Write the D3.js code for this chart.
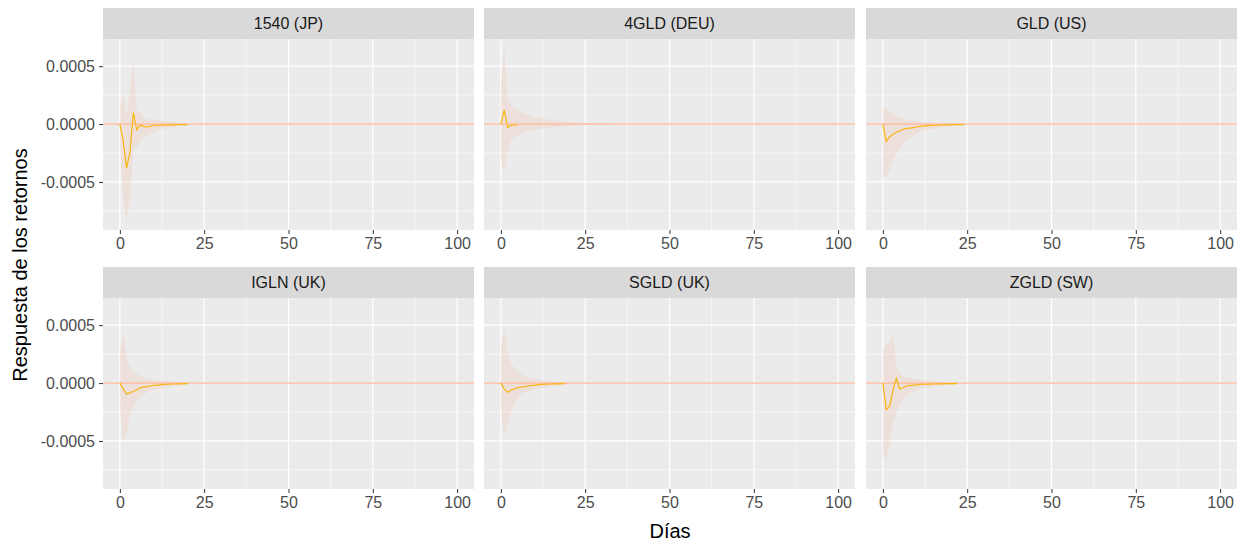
<!DOCTYPE html>
<html>
<head>
<meta charset="utf-8">
<script src="https://cdn.jsdelivr.net/npm/d3@7"></script>
<style>
  body { margin: 0; background: #fff; }
  text { font-family: "Liberation Sans", Arial, sans-serif; }
</style>
</head>
<body>
<script>
// panel titles
var panels = ["1540 (JP)", "4GLD (DEU)", "GLD (US)", "IGLN (UK)", "SGLD (UK)", "ZGLD (SW)"];

// impulse response (day 0, 1, 2, ...)
var irf1540 = [0, -0.00015, -0.00038, -0.00024, 0.0001, -0.00005, -0.00001, -0.00002, -0.000025, -0.00002, -0.000012,
  -0.00001, -0.00001, -0.000009, -0.000008, -0.000007, -0.000006, -0.000005, -0.000005, -0.000004, -0.000004];
var lo1540 = [-0.00017, -0.00066, -0.00084, -0.00066, -0.00022, -0.0002, -0.00015, -0.00012, -0.0001, -0.00008, -0.00007,
  -0.00006, -0.00005, -0.00004, -0.000035, -0.00003, -0.000025, -0.00002, -0.000015, -0.000012, -0.00001];
var hi1540 = [0.00015, 0.00026, 0.00006, 0.00029, 0.00054, 0.00011, 0.00011, 0.00006, 0.00004, 0.00004, 0.000035,
  0.00003, 0.00003, 0.000025, 0.00002, 0.00002, 0.000015, 0.000012, 0.00001, 0.000008, 0.000006];

var irf4gld = [0, 0.00012, -0.00003, -0.00001, -0.000008, -0.000008];
var lo4gld = [-0.0003, -0.00042, -0.00024, -0.00014, -0.00011, -0.0001, -0.00008, -0.00007, -0.00006, -0.000055, -0.00005,
  -0.000045, -0.00004, -0.000035, -0.00003, -0.000028, -0.000025, -0.000022, -0.00002, -0.000018, -0.000015,
  -0.000013, -0.000012, -0.000011, -0.00001, -0.000009, -0.000008, -0.000007, -0.000006, -0.0000055, -0.000005,
  -0.000004, -0.000003, -0.0000025, -0.000002, -0.0000015, -0.000001];
var hi4gld = [0.00035, 0.00066, 0.00022, 0.00017, 0.00013, 0.00012, 0.0001, 0.00009, 0.00008, 0.00007, 0.00006,
  0.000055, 0.00005, 0.000045, 0.00004, 0.000035, 0.00003, 0.000028, 0.000025, 0.000022, 0.00002,
  0.000017, 0.000015, 0.000013, 0.000012, 0.000011, 0.00001, 0.000009, 0.000008, 0.000007, 0.000006,
  0.000005, 0.000004, 0.0000035, 0.000003, 0.0000025, 0.000002];

var irfGld = [0, -0.00015, -0.00011, -0.00009, -0.00007, -0.00006, -0.000045, -0.00004, -0.000035, -0.00003, -0.000025,
  -0.00002, -0.000018, -0.000015, -0.000012, -0.00001, -0.000009, -0.000008, -0.000007, -0.000006, -0.000006,
  -0.000005, -0.000005, -0.000005, -0.000005];
var loGld = [-0.00047, -0.00045, -0.0004, -0.00031, -0.00026, -0.00021, -0.00017, -0.00014, -0.00012, -0.0001, -0.00008,
  -0.00007, -0.00006, -0.00005, -0.000045, -0.00004, -0.000035, -0.00003, -0.000025, -0.00002, -0.000018,
  -0.000015, -0.000012, -0.00001, -0.000008];
var hiGld = [0.000135, 0.00013, 0.00011, 0.00009, 0.00007, 0.00006, 0.00005, 0.00004, 0.000035, 0.00003, 0.000025,
  0.00002, 0.000018, 0.000015, 0.000013, 0.000011, 0.00001, 0.000008, 0.000007, 0.000006, 0.000005,
  0.0000045, 0.000004, 0.0000035, 0.000003];

var irfIgln = [0, -0.00005, -0.000095, -0.000085, -0.00007, -0.00006, -0.00004, -0.000035, -0.00003, -0.000025, -0.00002,
  -0.000018, -0.000015, -0.000012, -0.00001, -0.000009, -0.000008, -0.000007, -0.000006, -0.000005, -0.000005];
var loIgln = [-0.0002, -0.0005, -0.00044, -0.00028, -0.0002, -0.00016, -0.00012, -0.0001, -0.00008, -0.00007, -0.00006,
  -0.00005, -0.000045, -0.00004, -0.000035, -0.00003, -0.000025, -0.00002, -0.000018, -0.000015, -0.000012];
var hiIgln = [0.00028, 0.00043, 0.00022, 0.00014, 0.0001, 0.00008, 0.00006, 0.00005, 0.00004, 0.000035, 0.00003,
  0.000025, 0.00002, 0.000018, 0.000015, 0.000013, 0.000011, 0.00001, 0.000008, 0.000007, 0.000006];

var irfSgld = [0, -0.00005, -0.00008, -0.00006, -0.00005, -0.00004, -0.000035, -0.00003, -0.000025, -0.00002, -0.000018,
  -0.000015, -0.000012, -0.00001, -0.000009, -0.000008, -0.000007, -0.000006, -0.000005, -0.000005];
var loSgld = [-0.0002, -0.00046, -0.00035, -0.00025, -0.00017, -0.00013, -0.0001, -0.00008, -0.00007, -0.00006, -0.00005,
  -0.000045, -0.00004, -0.000035, -0.00003, -0.000025, -0.00002, -0.000018, -0.000015, -0.000012, -0.00001];
var hiSgld = [0.0003, 0.00046, 0.00028, 0.00017, 0.00013, 0.0001, 0.00008, 0.00006, 0.00005, 0.00004, 0.000035,
  0.00003, 0.000025, 0.00002, 0.000018, 0.000015, 0.000013, 0.000011, 0.00001, 0.000008, 0.000007];

var irfZgld = [0, -0.00023, -0.0002, -0.00006, 0.00004, -0.00005, -0.00004, -0.000025, -0.00002, -0.000018, -0.000015,
  -0.000012, -0.00001, -0.00001, -0.000009, -0.000008, -0.000007, -0.000006, -0.000006, -0.000005, -0.000005,
  -0.000005, -0.000005];
var loZgld = [-0.00063, -0.00065, -0.00055, -0.00035, -0.00026, -0.00018, -0.00013, -0.0001, -0.00008, -0.00007, -0.00006,
  -0.00005, -0.000045, -0.00004, -0.000035, -0.00003, -0.000025, -0.00002, -0.000018, -0.000015, -0.000012,
  -0.00001, -0.000008];
var hiZgld = [0.00028, 0.00033, 0.00036, 0.00044, 0.00014, 0.00008, 0.00006, 0.00005, 0.000045, 0.00004, 0.000035,
  0.00003, 0.000025, 0.00002, 0.000018, 0.000015, 0.000013, 0.000011, 0.00001, 0.000008, 0.000007,
  0.000006, 0.000005];

var irfs = [irf1540, irf4gld, irfGld, irfIgln, irfSgld, irfZgld];
var lows = [lo1540, lo4gld, loGld, loIgln, loSgld, loZgld];
var highs = [hi1540, hi4gld, hiGld, hiIgln, hiSgld, hiZgld];

var xTicks = [0, 25, 50, 75, 100];
var xMinor = [12.5, 37.5, 62.5, 87.5];
var yTicks = [-0.0005, 0, 0.0005];
var yMinor = [-0.00075, -0.00025, 0.00025, 0.00075];

var W = 1246, H = 544;
var colX = [103, 484, 866], rowY = [8, 267];
var pw = 371, stripH = 31, ph = 191;

var svg = d3.select("body").append("svg")
            .attr("width", W)
            .attr("height", H);

// shared scales, 5% expansion like ggplot
var x = d3.scaleLinear().domain([-5, 105]).range([0, pw]);
var yMin = d3.min(lows, function(a){return d3.min(a);});
var yMax = d3.max(highs, function(a){return d3.max(a);});
var pad = (yMax - yMin) * 0.05;
var y = d3.scaleLinear().domain([yMin - pad, yMax + pad]).range([ph, 0]);

var area = d3.area()
    .x(function(d,i){return x(i);})
    .y0(function(d){return y(d[0]);})
    .y1(function(d){return y(d[1]);});
var line = d3.line()
    .x(function(d,i){return x(i);})
    .y(function(d){return y(d);});

panels.forEach(function(name, k){
  var col = k % 3, row = Math.floor(k / 3);
  var g = svg.append("g").attr("transform", "translate(" + colX[col] + "," + rowY[row] + ")");

  // strip
  g.append("rect").attr("width", pw).attr("height", stripH).attr("fill", "#D9D9D9");
  g.append("text")
    .attr("x", pw / 2).attr("y", stripH / 2 + 1)
    .attr("text-anchor", "middle").attr("dominant-baseline", "middle")
    .attr("font-size", "16px").attr("fill", "#1A1A1A")
    .text(name);

  var p = g.append("g").attr("transform", "translate(0," + stripH + ")");
  p.append("rect").attr("width", pw).attr("height", ph).attr("fill", "#EBEBEB");

  p.selectAll("line.ymin").data(yMinor.filter(function(v){return v > y.domain()[0] && v < y.domain()[1];}))
    .enter().append("line")
      .attr("x1", 0).attr("x2", pw)
      .attr("y1", function(d){return y(d);}).attr("y2", function(d){return y(d);})
      .attr("stroke", "#fff").attr("stroke-width", 0.6);
  p.selectAll("line.xmin").data(xMinor)
    .enter().append("line")
      .attr("y1", 0).attr("y2", ph)
      .attr("x1", function(d){return x(d);}).attr("x2", function(d){return x(d);})
      .attr("stroke", "#fff").attr("stroke-width", 0.6);
  p.selectAll("line.ymaj").data(yTicks)
    .enter().append("line")
      .attr("x1", 0).attr("x2", pw)
      .attr("y1", function(d){return y(d);}).attr("y2", function(d){return y(d);})
      .attr("stroke", "#fff").attr("stroke-width", 1.2);
  p.selectAll("line.xmaj").data(xTicks)
    .enter().append("line")
      .attr("y1", 0).attr("y2", ph)
      .attr("x1", function(d){return x(d);}).attr("x2", function(d){return x(d);})
      .attr("stroke", "#fff").attr("stroke-width", 1.2);

  // confidence band
  var band = lows[k].map(function(v,i){return [v, highs[k][i]];});
  p.append("path").datum(band)
    .attr("d", area)
    .attr("fill", "#FA9A70").attr("fill-opacity", 0.15);

  // zero line
  p.append("line")
    .attr("x1", 0).attr("x2", pw)
    .attr("y1", y(0)).attr("y2", y(0))
    .attr("stroke", "#FFA07A").attr("stroke-opacity", 0.55).attr("stroke-width", 1.6);

  p.append("path").datum(irfs[k])
    .attr("d", line)
    .attr("fill", "none").attr("stroke", "#F9B50F").attr("stroke-width", 1.2);

  // x axis
  var xa = p.append("g").attr("transform", "translate(0," + ph + ")")
    .call(d3.axisBottom(x).tickValues(xTicks).tickSize(4).tickPadding(4).tickFormat(d3.format("d")));
  xa.select(".domain").remove();
  xa.selectAll("line").attr("stroke", "#333");
  xa.selectAll("text").attr("font-size", "16px").attr("fill", "#4D4D4D")
    .attr("font-family", "Liberation Sans, Arial, sans-serif");

  // y axis only on the first column
  if (col === 0) {
    var ya = p.append("g")
      .call(d3.axisLeft(y).tickValues(yTicks).tickSize(4).tickPadding(4).tickFormat(d3.format(".4f")));
    ya.select(".domain").remove();
    ya.selectAll("line").attr("stroke", "#333");
    ya.selectAll("text").attr("font-size", "16px").attr("fill", "#4D4D4D")
      .attr("font-family", "Liberation Sans, Arial, sans-serif")
      .text(function(d){return d3.format(".4f")(d).replace("\u2212", "-");});
  }
});

svg.append("text")
  .attr("x", (colX[0] + colX[2] + pw) / 2).attr("y", 538)
  .attr("text-anchor", "middle")
  .attr("font-size", "20px").attr("fill", "#000")
  .text("Días");

svg.append("text")
  .attr("transform", "translate(27," + 265 + ") rotate(-90)")
  .attr("text-anchor", "middle")
  .attr("font-size", "20px").attr("fill", "#000")
  .text("Respuesta de los retornos");
</script>
</body>
</html>
